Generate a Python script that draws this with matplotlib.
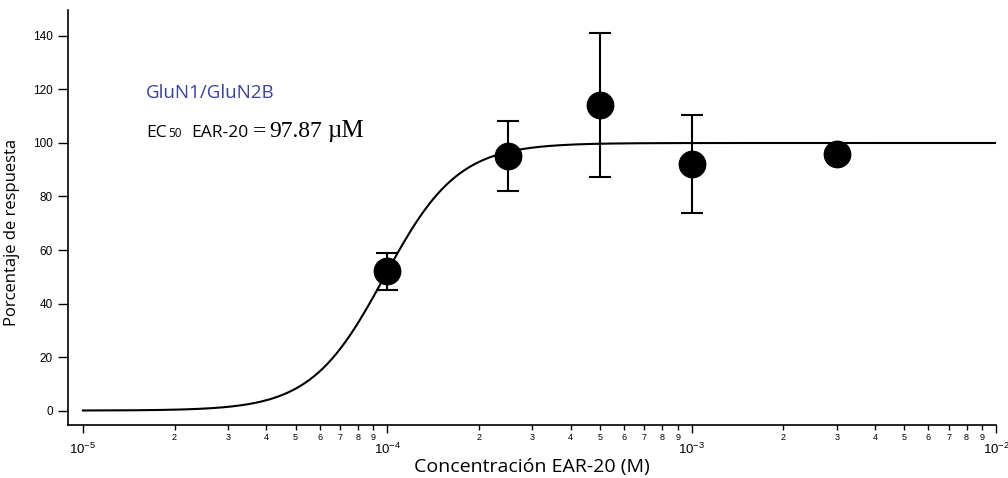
import numpy as np
import matplotlib
matplotlib.use("Agg")
import matplotlib.pyplot as plt
from matplotlib.ticker import FixedLocator, FuncFormatter

# Concentration-response data for EAR-20 on GluN1/GluN2B
conc = [1e-4, 2.5e-4, 5e-4, 1e-3, 3e-3]          # M
response = [52.1, 95.1, 114.2, 92.1, 95.9]        # % of maximal response
sem = [6.9, 13.0, 26.8, 18.4, 0.0]

# Hill fit parameters
ec50 = 97.87e-6
hill_n = 3.6
bottom, top = 0.0, 100.0

fig = plt.figure(figsize=(10.08, 4.78), dpi=100)
ax = fig.add_axes([68 / 1008, 1 - 425 / 478, (996 - 68) / 1008, (425 - 10) / 478])

xfit = np.logspace(-5, -2, 400)
yfit = bottom + (top - bottom) / (1 + (ec50 / xfit) ** hill_n)
ax.plot(xfit, yfit, color="black", lw=1.5, zorder=2)

ax.errorbar(conc, response, yerr=sem, fmt="none", ecolor="black",
            elinewidth=1.5, capsize=8, capthick=1.5, zorder=3)
ax.plot(conc, response, "o", color="black", ms=19, zorder=4)

ax.set_xscale("log")
ax.set_xlim(10 ** -5.049, 1e-2)
ax.set_ylim(-5.4, 149.7)

for s in ("top", "right"):
    ax.spines[s].set_visible(False)
for s in ("left", "bottom"):
    ax.spines[s].set_linewidth(1.2)

tick_font = "Liberation Sans"
ax.set_yticks(np.arange(0, 141, 20))
ax.tick_params(axis="y", length=7, width=1, pad=4, labelsize=8.5)
for lbl in ax.get_yticklabels():
    lbl.set_fontfamily(tick_font)

decades = [-5, -4, -3, -2]
major_x = [10.0 ** d for d in decades]
minor_x = [m * 10.0 ** d for d in decades[:-1] for m in range(2, 10)]
ax.xaxis.set_major_locator(FixedLocator(major_x))
ax.xaxis.set_minor_locator(FixedLocator(minor_x))
ax.xaxis.set_major_formatter(FuncFormatter(lambda v, p: r"$\mathregular{10^{%d}}$" % round(np.log10(v))))
ax.xaxis.set_minor_formatter(FuncFormatter(lambda v, p: "%d" % round(v / 10 ** np.floor(np.log10(v) + 1e-9))))
ax.tick_params(axis="x", which="major", length=6, width=1, pad=6, labelsize=9.5)
ax.tick_params(axis="x", which="minor", length=3.5, width=1, pad=2, labelsize=6.5)
for lbl in ax.get_xticklabels(which="both"):
    lbl.set_fontfamily(tick_font)

label_font = "Open Sans"
ax.set_xlabel("Concentración EAR-20 (M)", fontfamily=label_font, fontsize=14, labelpad=1)
ax.set_ylabel("Porcentaje de respuesta", fontfamily=label_font, fontsize=12)
ax.yaxis.set_label_coords(-0.052, 0.465)

# Annotation block
fig.text(146 / 1008, 1 - 98.5 / 478, "GluN1/GluN2B", color="#3b3fa6",
         fontfamily=label_font, fontsize=13.5, va="baseline", ha="left")

baseline = 1 - 137 / 478
pieces = [
    (146, "EC", dict(fontfamily=label_font, fontsize=12.5)),
    (168, "50", dict(fontfamily=label_font, fontsize=8.5)),
    (191, "EAR-20", dict(fontfamily=label_font, fontsize=12.5)),
    (253, "=", dict(fontfamily="Liberation Serif", fontsize=17)),
    (269, "97.87", dict(fontfamily="Liberation Serif", fontsize=17)),
    (327, "\u00b5M", dict(fontfamily="Liberation Serif", fontsize=18)),
]
for xp, txt, kw in pieces:
    fig.text(xp / 1008, baseline, txt, va="baseline", ha="left", color="black", **kw)

fig.savefig("out.png", dpi=100)
